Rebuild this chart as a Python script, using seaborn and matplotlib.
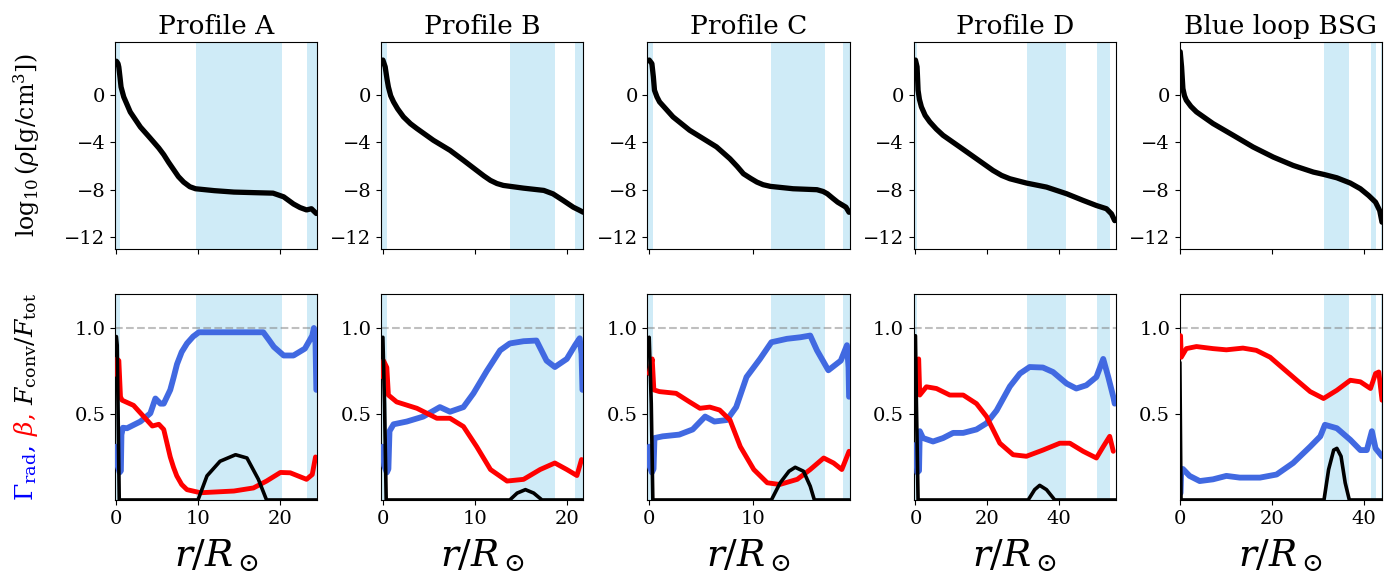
import numpy as np
import pandas as pd
import matplotlib
matplotlib.use("Agg")
import matplotlib.pyplot as plt
import seaborn as sns

# ---------------- data ----------------
titles = ["Profile A", "Profile B", "Profile C", "Profile D", "Blue loop BSG"]
xlims = [(-0.17, 24.6), (-0.18, 21.8), (-0.17, 19.35), (-0.5, 55.8), (0.0, 43.9)]
xticks = [[0, 10, 20], [0, 10, 20], [0, 10], [0, 20, 40], [0, 20, 40]]
conv_spans = [
    [(-0.17, 0.5), (9.7, 20.3), (23.3, 24.6)],
    [(-0.18, 0.43), (13.8, 18.7), (20.9, 21.8)],
    [(-0.17, 0.35), (11.8, 16.95), (18.7, 19.35)],
    [(-0.5, 0.55), (31.0, 41.8), (50.7, 54.1)],
    [(31.3, 36.8), (41.4, 42.7), (43.6, 43.9)],
]

# log10 density
rho_r = [
    [0.0, 0.2, 0.3, 0.45, 0.57, 0.9, 1.7, 2.94, 4.0, 4.57, 5.2, 5.8, 6.4, 7.0, 7.6, 8.24, 9.0, 9.7, 12.0, 14.4, 17.0, 19.2, 20.5, 21.7, 22.5, 23.3, 23.9, 24.5],
    [0.0, 0.25, 0.45, 0.6, 0.85, 1.16, 1.6, 2.24, 3.0, 3.7, 5.5, 7.3, 8.76, 10.2, 11.0, 11.7, 12.4, 13.1, 15.3, 17.5, 18.5, 19.6, 20.7, 21.3, 21.8],
    [0.0, 0.26, 0.4, 0.51, 0.75, 1.0, 1.6, 2.3, 3.9, 5.2, 6.5, 7.8, 8.5, 9.1, 9.8, 10.4, 11.0, 11.7, 13.9, 16.2, 16.8, 17.2, 17.7, 18.2, 19.0, 19.3],
    [0.0, 0.45, 0.6, 0.73, 1.1, 1.66, 2.7, 4.0, 5.8, 7.7, 12.35, 17.0, 21.6, 24.0, 26.3, 30.9, 36.5, 42.1, 46.7, 50.4, 53.2, 54.6, 55.5],
    [0.07, 0.37, 0.66, 1.0, 1.4, 2.4, 3.6, 7.2, 11.6, 15.9, 20.3, 24.6, 29.0, 31.3, 34.1, 37.0, 39.2, 41.0, 42.5, 43.4, 43.9],
]
rho_v = [
    [2.8, 2.6, 2.3, 1.4, 0.64, -0.2, -1.47, -2.73, -3.55, -4.0, -4.5, -5.05, -5.7, -6.3, -6.9, -7.36, -7.75, -7.92, -8.08, -8.2, -8.25, -8.29, -8.6, -9.2, -9.5, -9.7, -9.6, -10.0],
    [2.9, 2.33, 1.3, 0.64, -0.1, -0.62, -1.2, -1.88, -2.45, -2.86, -3.85, -4.69, -5.53, -6.38, -6.85, -7.22, -7.48, -7.64, -7.87, -8.06, -8.35, -8.9, -9.47, -9.7, -9.9],
    [2.9, 2.6, 1.5, 0.36, -0.2, -0.62, -1.2, -1.88, -3.0, -3.7, -4.4, -5.4, -6.05, -6.66, -7.05, -7.36, -7.58, -7.72, -7.92, -8.0, -8.15, -8.34, -8.7, -9.05, -9.47, -9.9],
    [2.9, 2.33, 1.3, 0.36, -0.4, -1.04, -1.75, -2.3, -2.9, -3.43, -4.41, -5.4, -6.38, -6.8, -7.08, -7.44, -7.78, -8.34, -8.9, -9.33, -9.6, -10.03, -10.6],
    [3.6, 2.33, 0.5, -0.1, -0.48, -1.0, -1.46, -2.44, -3.43, -4.41, -5.26, -5.96, -6.52, -6.72, -7.0, -7.44, -7.92, -8.49, -9.05, -9.76, -10.73],
]

# Gamma_rad (blue)
gam_r = [
    [0.0, 0.15, 0.4, 0.55, 0.62, 0.8, 1.3, 2.94, 4.16, 4.78, 5.4, 5.8, 6.6, 7.0, 7.43, 8.0, 8.65, 9.4, 10.1, 14.4, 18.0, 18.7, 19.3, 20.5, 21.7, 23.1, 24.0, 24.2, 24.4, 24.5],
    [0.0, 0.14, 0.43, 0.6, 0.72, 1.16, 2.6, 4.4, 6.2, 7.3, 8.76, 9.85, 11.3, 12.75, 13.8, 15.3, 16.7, 17.8, 18.7, 20.0, 20.9, 21.4, 21.6, 21.7],
    [0.0, 0.03, 0.26, 0.42, 0.51, 1.3, 2.9, 4.2, 5.4, 6.3, 7.5, 8.4, 9.4, 10.7, 11.8, 13.3, 14.6, 15.55, 16.2, 17.3, 18.5, 19.1, 19.25, 19.3],
    [0.0, 0.5, 1.0, 1.2, 2.1, 4.9, 7.7, 10.5, 13.3, 17.0, 19.8, 22.6, 26.3, 29.1, 31.8, 35.5, 38.3, 42.1, 44.8, 47.6, 50.4, 52.3, 53.7, 55.1, 55.5],
    [0.15, 0.3, 0.66, 2.1, 4.3, 7.2, 10.1, 13.0, 17.4, 21.0, 24.6, 28.3, 30.5, 31.5, 34.1, 37.0, 39.2, 40.6, 41.7, 42.5, 43.9],
]
gam_v = [
    [0.31, 0.2, 0.16, 0.17, 0.38, 0.42, 0.417, 0.456, 0.504, 0.59, 0.56, 0.56, 0.64, 0.71, 0.79, 0.86, 0.91, 0.95, 0.975, 0.975, 0.975, 0.93, 0.89, 0.84, 0.84, 0.88, 0.955, 1.0, 0.91, 0.64],
    [0.31, 0.2, 0.16, 0.18, 0.40, 0.44, 0.456, 0.485, 0.54, 0.513, 0.54, 0.62, 0.75, 0.87, 0.91, 0.923, 0.927, 0.81, 0.773, 0.82, 0.9, 0.94, 0.85, 0.64],
    [0.31, 0.2, 0.16, 0.18, 0.36, 0.37, 0.38, 0.41, 0.485, 0.456, 0.465, 0.54, 0.715, 0.82, 0.917, 0.937, 0.946, 0.956, 0.87, 0.754, 0.81, 0.9, 0.77, 0.6],
    [0.32, 0.16, 0.17, 0.40, 0.36, 0.34, 0.36, 0.39, 0.39, 0.41, 0.446, 0.52, 0.66, 0.735, 0.773, 0.77, 0.744, 0.677, 0.648, 0.667, 0.715, 0.82, 0.715, 0.6, 0.56],
    [0.04, 0.18, 0.18, 0.14, 0.11, 0.12, 0.14, 0.13, 0.13, 0.148, 0.215, 0.31, 0.37, 0.437, 0.417, 0.35, 0.29, 0.29, 0.4, 0.3, 0.254],
]

# beta (red)
beta_r = [
    [0.0, 0.07, 0.3, 0.5, 0.7, 2.1, 3.35, 4.4, 5.2, 5.8, 6.2, 6.6, 7.0, 7.4, 8.0, 8.65, 10.3, 14.4, 16.8, 18.4, 20.1, 21.3, 23.3, 24.0, 24.4],
    [0.0, 0.07, 0.43, 0.6, 1.5, 3.7, 5.87, 7.3, 8.76, 10.2, 11.7, 13.5, 15.3, 17.1, 18.7, 20.0, 21.1, 21.6],
    [0.0, 0.29, 0.45, 1.0, 2.6, 3.9, 4.9, 5.85, 6.8, 7.8, 8.8, 10.1, 11.4, 12.6, 14.3, 15.55, 16.85, 17.8, 18.6, 19.3],
    [0.5, 0.9, 1.2, 3.05, 5.85, 9.56, 13.3, 17.0, 19.8, 23.5, 27.2, 30.9, 35.5, 40.2, 43.0, 46.7, 50.4, 52.3, 54.1, 55.1],
    [0.15, 0.3, 1.4, 3.6, 7.2, 10.1, 13.7, 16.6, 19.6, 22.5, 25.4, 28.3, 31.2, 34.1, 37.0, 39.2, 41.4, 42.5, 43.2, 43.9],
]
beta_v = [
    [0.73, 0.82, 0.81, 0.6, 0.58, 0.55, 0.485, 0.43, 0.44, 0.41, 0.33, 0.25, 0.19, 0.14, 0.09, 0.06, 0.042, 0.052, 0.07, 0.11, 0.16, 0.158, 0.12, 0.148, 0.25],
    [0.715, 0.81, 0.77, 0.61, 0.57, 0.533, 0.475, 0.475, 0.427, 0.31, 0.177, 0.11, 0.12, 0.177, 0.215, 0.177, 0.142, 0.235],
    [0.735, 0.82, 0.64, 0.63, 0.62, 0.57, 0.533, 0.54, 0.523, 0.465, 0.31, 0.177, 0.1, 0.09, 0.12, 0.177, 0.244, 0.215, 0.177, 0.283],
    [0.8, 0.82, 0.61, 0.658, 0.648, 0.61, 0.61, 0.56, 0.485, 0.33, 0.263, 0.254, 0.29, 0.33, 0.33, 0.283, 0.244, 0.31, 0.37, 0.283],
    [0.955, 0.83, 0.88, 0.892, 0.88, 0.873, 0.883, 0.87, 0.83, 0.763, 0.696, 0.63, 0.59, 0.638, 0.696, 0.687, 0.648, 0.735, 0.744, 0.58],
]

# F_conv / F_tot (black)
fconv_r = [
    [0.0, 0.1, 0.35, 10.0, 11.1, 12.7, 14.6, 16.0, 17.4, 18.4, 24.6],
    [0.0, 0.18, 0.36, 13.8, 14.6, 15.5, 16.4, 17.3, 21.8],
    [0.0, 0.2, 0.35, 11.8, 12.65, 13.5, 14.1, 14.9, 15.55, 15.95, 19.35],
    [0.0, 0.27, 0.73, 31.4, 33.2, 34.6, 36.5, 38.8, 55.8],
    [0.0, 0.25, 31.3, 32.3, 33.4, 34.1, 35.0, 35.9, 36.8, 43.9],
]
fconv_v = [
    [0.95, 0.9, 0.0, 0.0, 0.14, 0.225, 0.263, 0.244, 0.12, 0.0, 0.0],
    [0.946, 0.56, 0.0, 0.0, 0.04, 0.06, 0.04, 0.0, 0.0],
    [0.946, 0.56, 0.0, 0.0, 0.1, 0.167, 0.19, 0.167, 0.08, 0.0, 0.0],
    [0.955, 0.56, 0.0, 0.0, 0.06, 0.085, 0.06, 0.0, 0.0],
    [0.8, 0.0, 0.0, 0.177, 0.29, 0.3, 0.254, 0.1, 0.0, 0.0],
]

# ---------------- style ----------------
sns.set_style("ticks")
plt.rcParams.update({
    "font.family": ["DejaVu Serif"],
    "mathtext.fontset": "dejavuserif",
    "axes.edgecolor": "black",
    "axes.linewidth": 0.8,
    "xtick.color": "black",
    "ytick.color": "black",
    "xtick.labelsize": 14,
    "ytick.labelsize": 14,
    "axes.labelcolor": "black",
    "text.color": "black",
})

fig, axes = plt.subplots(2, 5, figsize=(13.94, 5.78), dpi=100)
fig.subplots_adjust(left=0.0825, right=0.9914, top=0.927, bottom=0.135,
                    wspace=0.317, hspace=0.218)

span_col = "skyblue"
for i in range(5):
    axt, axb = axes[0, i], axes[1, i]
    for ax in (axt, axb):
        for a, b in conv_spans[i]:
            ax.axvspan(a, b, color=span_col, alpha=0.4, lw=0, zorder=0)
        ax.set_xlim(*xlims[i])
        ax.set_xticks(xticks[i])
    # density
    d = pd.DataFrame({"r": rho_r[i], "v": rho_v[i]})
    sns.lineplot(data=d, x="r", y="v", ax=axt, color="black", lw=3.8,
                 estimator=None, sort=False, zorder=3)
    axt.set_ylim(-12.95, 4.4)
    axt.set_yticks([0, -4, -8, -12])
    axt.set_xticklabels([])
    axt.set_title(titles[i], fontsize=19)
    axt.set_xlabel("")
    axt.set_ylabel("")
    # bottom
    axb.axhline(1.0, ls="--", color="gray", alpha=0.5, lw=1.5, zorder=1)
    g = pd.DataFrame({"r": gam_r[i], "v": gam_v[i]})
    sns.lineplot(data=g, x="r", y="v", ax=axb, color="royalblue", lw=4.2,
                 estimator=None, sort=False, zorder=3)
    bt = pd.DataFrame({"r": beta_r[i], "v": beta_v[i]})
    sns.lineplot(data=bt, x="r", y="v", ax=axb, color="red", lw=3.5,
                 estimator=None, sort=False, zorder=4)
    fc = pd.DataFrame({"r": fconv_r[i], "v": fconv_v[i]})
    sns.lineplot(data=fc, x="r", y="v", ax=axb, color="black", lw=2.6,
                 estimator=None, sort=False, zorder=5)
    axb.set_ylim(0, 1.2)
    axb.set_yticks([0.5, 1.0])
    axb.set_xlabel(r"$r/R_\odot$", fontsize=27, labelpad=7)
    axb.set_ylabel("")

W, H = fig.bbox.width, fig.bbox.height
label_x = 26.5 / W

# top-row y label
top_c = (42 + 248) / 2
fig.text(label_x, 1 - top_c / H, r"$\log_{10}(\rho[\mathrm{g/cm^3}])$", fontsize=17,
         rotation=90, ha="center", va="center")

# multicoloured ylabel for bottom row
parts = [(r"$\Gamma_{\rm rad}$,", "blue"), (r"$\beta$,", "red"),
         (r"$F_{\rm conv}/F_{\rm tot}$", "black")]
gap_px = 9
texts = []
for s, c in parts:
    t = fig.text(0, 0, s, color=c, rotation=90, fontsize=18, ha="center", va="bottom")
    texts.append(t)
fig.canvas.draw()
renderer = fig.canvas.get_renderer()
heights = [t.get_window_extent(renderer).height for t in texts]
bb = axes[1, 0].get_window_extent(renderer)
total = sum(heights) + gap_px * (len(texts) - 1)
ystart = (bb.y0 + bb.y1) / 2 - total / 2
y = ystart
for t, h in zip(texts, heights):
    t.set_position((label_x, y / H))
    y += h + gap_px

fig.savefig("out.png", dpi=100)
